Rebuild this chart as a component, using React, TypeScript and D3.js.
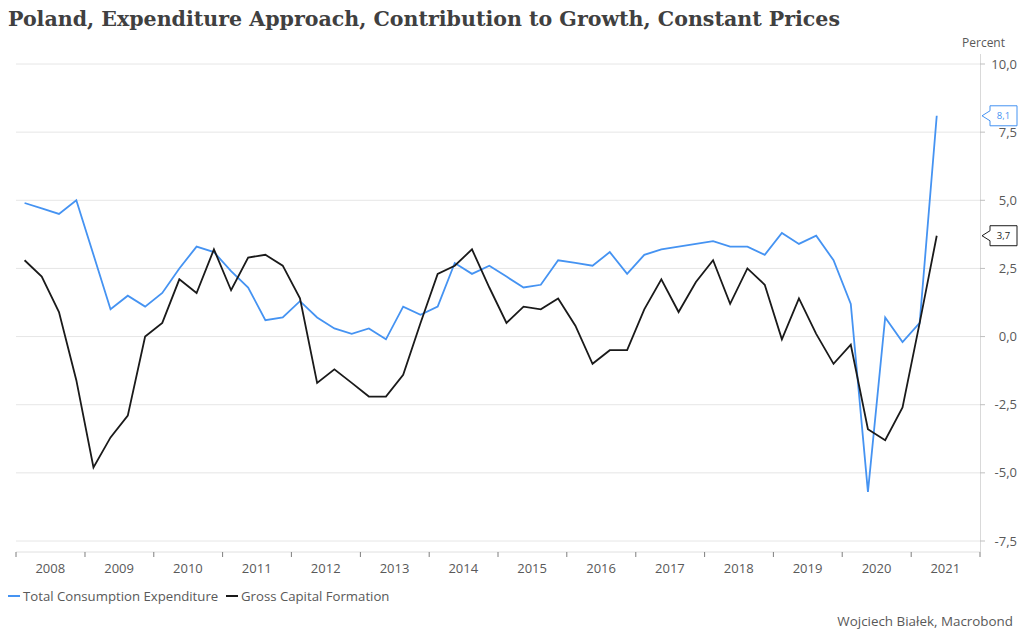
import React from "react";
import * as d3 from "d3";

const quarters = [
  "2008-Q1","2008-Q2","2008-Q3","2008-Q4","2009-Q1","2009-Q2","2009-Q3","2009-Q4",
  "2010-Q1","2010-Q2","2010-Q3","2010-Q4","2011-Q1","2011-Q2","2011-Q3","2011-Q4",
  "2012-Q1","2012-Q2","2012-Q3","2012-Q4","2013-Q1","2013-Q2","2013-Q3","2013-Q4",
  "2014-Q1","2014-Q2","2014-Q3","2014-Q4","2015-Q1","2015-Q2","2015-Q3","2015-Q4",
  "2016-Q1","2016-Q2","2016-Q3","2016-Q4","2017-Q1","2017-Q2","2017-Q3","2017-Q4",
  "2018-Q1","2018-Q2","2018-Q3","2018-Q4","2019-Q1","2019-Q2","2019-Q3","2019-Q4",
  "2020-Q1","2020-Q2","2020-Q3","2020-Q4","2021-Q1","2021-Q2",
];

const consumption = [
  4.9, 4.7, 4.5, 5.0, 3.0, 1.0, 1.5, 1.1, 1.6, 2.5, 3.3, 3.1, 2.4, 1.8, 0.6, 0.7,
  1.3, 0.7, 0.3, 0.1, 0.3, -0.1, 1.1, 0.8, 1.1, 2.7, 2.3, 2.6, 2.2, 1.8, 1.9, 2.8,
  2.7, 2.6, 3.1, 2.3, 3.0, 3.2, 3.3, 3.4, 3.5, 3.3, 3.3, 3.0, 3.8, 3.4, 3.7, 2.8,
  1.2, -5.7, 0.7, -0.2, 0.5, 8.1,
];

const capital = [
  2.8, 2.2, 0.9, -1.6, -4.8, -3.7, -2.9, 0.0, 0.5, 2.1, 1.6, 3.2, 1.7, 2.9, 3.0, 2.6,
  1.4, -1.7, -1.2, -1.7, -2.2, -2.2, -1.4, 0.5, 2.3, 2.6, 3.2, 1.8, 0.5, 1.1, 1.0, 1.4,
  0.4, -1.0, -0.5, -0.5, 1.0, 2.1, 0.9, 2.0, 2.8, 1.2, 2.5, 1.9, -0.1, 1.4, 0.1, -1.0,
  -0.3, -3.4, -3.8, -2.6, 0.5, 3.7,
];

const years = [2008, 2009, 2010, 2011, 2012, 2013, 2014, 2015, 2016, 2017, 2018, 2019, 2020, 2021];
const yTicks = [-7.5, -5, -2.5, 0, 2.5, 5, 7.5, 10];

const seriesNames = ["Total Consumption Expenditure", "Gross Capital Formation"];
const seriesColors = ["#4593f2", "#1a1a1a"];

const TITLE = "Poland, Expenditure Approach, Contribution to Growth, Constant Prices";
const SOURCE = "Wojciech Białek, Macrobond";

const SANS = "'Open Sans', 'Noto Sans', sans-serif";

function qDate(q: string): Date {
  const [y, qq] = q.split("-Q");
  const m = (+qq - 1) * 3;
  const start = new Date(+y, m, 1).getTime();
  const end = new Date(+y, m + 3, 1).getTime();
  return new Date((start + end) / 2);
}

const fmt = (v: number) => d3.format(".1f")(v).replace(".", ",").replace("−", "-");

export default function App() {
  const left = 16, right = 980, top = 64, bottom = 541;
  const x = d3.scaleTime().domain([new Date(2008, 0, 1), new Date(2022, 0, 1)]).range([left, right]);
  const y = d3.scaleLinear().domain([-7.5, 10]).range([bottom, top]);
  const axisY = 552;

  const line = d3.line<number>()
    .x((_, i) => x(qDate(quarters[i])))
    .y((d) => y(d));

  const series = [consumption, capital];

  const callout = (v: number, color: string, key: string) => {
    const cy = y(v);
    const bx = 990, bw = 27, bh = 20;
    const p = `M${bx},${cy - bh / 2} L${bx + bw},${cy - bh / 2} L${bx + bw},${cy + bh / 2} L${bx},${cy + bh / 2} L${bx},${cy + 5} L${982},${cy} L${bx},${cy - 5} Z`;
    return (
      <g key={key}>
        <path d={p} fill="#fff" stroke={color} strokeWidth={1} />
        <text x={bx + bw / 2} y={cy + 3.5} textAnchor="middle" fontSize={9.5} fontFamily={SANS} fill={color}>
          {fmt(v)}
        </text>
      </g>
    );
  };

  return (
    <svg width={1024} height={640} style={{ position: "absolute", left: 0, top: 0, background: "#fff" }}>
      <text x={8} y={26} fontFamily="Georgia, 'DejaVu Serif', serif" fontWeight="bold" fontSize={21}
        fill="#404040" textLength={832} lengthAdjust="spacingAndGlyphs">{TITLE}</text>

      {/* gridlines */}
      {yTicks.map((t) => (
        <line key={"g" + t} x1={left} x2={right} y1={y(t)} y2={y(t)} stroke="#e6e6e6" strokeWidth={1} />
      ))}

      {/* right axis */}
      <line x1={right + 0.5} x2={right + 0.5} y1={54} y2={axisY} stroke="#d9d9d9" strokeWidth={1} />
      {yTicks.map((t) => (
        <g key={"t" + t}>
          <line x1={right} x2={right + 5} y1={y(t)} y2={y(t)} stroke="#bfbfbf" strokeWidth={1} />
          <text x={1017} y={y(t) + 4.5} textAnchor="end" fontSize={13} fontFamily={SANS} fill="#595959">
            {fmt(t)}
          </text>
        </g>
      ))}
      <text x={1005} y={47} textAnchor="end" fontSize={12} fontFamily={SANS} fill="#595959">Percent</text>

      {/* bottom axis */}
      <line x1={left} x2={right} y1={axisY} y2={axisY} stroke="#e0e0e0" strokeWidth={1} />
      {years.map((yr) => (
        <line key={"xt" + yr} x1={x(new Date(yr, 0, 1))} x2={x(new Date(yr, 0, 1))} y1={axisY} y2={axisY + 5}
          stroke="#7f7f7f" strokeWidth={1} />
      ))}
      <line x1={x(new Date(2022, 0, 1))} x2={x(new Date(2022, 0, 1))} y1={axisY} y2={axisY + 5} stroke="#7f7f7f" strokeWidth={1} />
      {years.map((yr) => (
        <text key={"xl" + yr} x={x(new Date(yr, 6, 1))} y={573} textAnchor="middle" fontSize={13}
          fontFamily={SANS} fill="#595959">{yr}</text>
      ))}

      {/* series */}
      {series.map((s, i) => (
        <path key={"s" + i} d={line(s) || ""} fill="none" stroke={seriesColors[i]} strokeWidth={1.8}
          strokeLinejoin="miter" />
      ))}

      {callout(consumption[consumption.length - 1], seriesColors[0], "c0")}
      {callout(capital[capital.length - 1], seriesColors[1], "c1")}

      {/* legend */}
      <g>
        <line x1={8} x2={20} y1={596} y2={596} stroke={seriesColors[0]} strokeWidth={2} />
        <text x={23} y={600.5} fontSize={13.2} fontFamily={SANS} fill="#595959">{seriesNames[0]}</text>
        <line x1={226} x2={238} y1={596} y2={596} stroke={seriesColors[1]} strokeWidth={2} />
        <text x={241} y={600.5} fontSize={13.2} fontFamily={SANS} fill="#595959">{seriesNames[1]}</text>
      </g>

      <text x={1013} y={626} textAnchor="end" fontSize={13.4} fontFamily={SANS} fill="#595959">{SOURCE}</text>
    </svg>
  );
}
